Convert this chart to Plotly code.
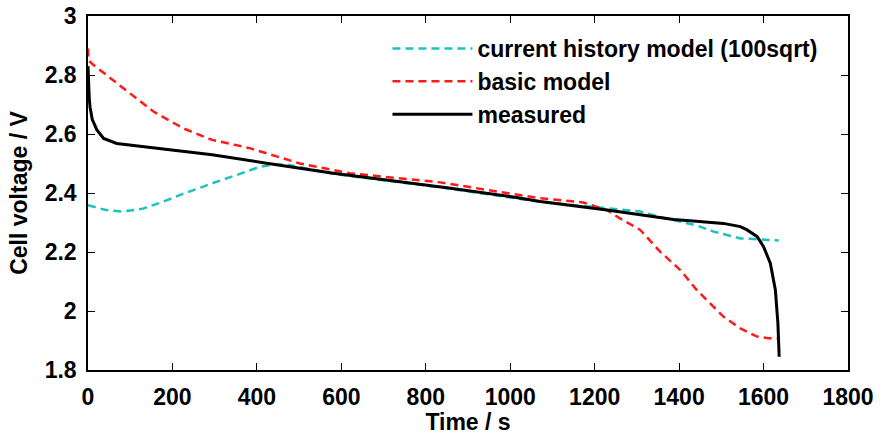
import plotly.graph_objects as go

# ---- data ----
measured_t = [0, 1, 3, 5, 10, 21, 37, 68, 147, 264, 294, 423, 581, 739, 850, 1000, 1071, 1229,
              1387, 1426, 1505, 1545, 1561, 1585, 1600, 1616, 1628, 1634, 1637]
measured_v = [2.83, 2.78, 2.72, 2.69, 2.65, 2.614, 2.585, 2.568, 2.555, 2.537, 2.530, 2.501, 2.467,
              2.438, 2.418, 2.388, 2.371, 2.342, 2.310, 2.306, 2.297, 2.286, 2.275, 2.252, 2.218,
              2.162, 2.071, 1.958, 1.845]

basic_t = [0, 1, 13, 68, 108, 155, 226, 294, 383, 423, 502, 620, 739, 834, 1000, 1071, 1173, 1229,
           1260, 1308, 1355, 1403, 1442, 1474, 1505, 1545, 1585, 1611, 1632]
basic_v = [2.89, 2.85, 2.834, 2.772, 2.726, 2.676, 2.619, 2.58, 2.552, 2.535, 2.50, 2.467, 2.45,
           2.436, 2.398, 2.382, 2.368, 2.342, 2.314, 2.275, 2.201, 2.139, 2.071, 2.026, 1.981,
           1.941, 1.913, 1.908, 1.908]

history_t = [0, 40, 82, 130, 177, 230, 272, 296, 350, 407, 446, 470, 581, 739, 850, 1071, 1200,
             1308, 1380, 1442, 1482, 1545, 1612, 1636]
history_v = [2.359, 2.343, 2.337, 2.347, 2.37, 2.40, 2.421, 2.434, 2.46, 2.489, 2.497, 2.497,
             2.465, 2.436, 2.416, 2.370, 2.352, 2.337, 2.310, 2.290, 2.269, 2.246, 2.241, 2.239]

x_ticks = [0, 200, 400, 600, 800, 1000, 1200, 1400, 1600, 1800]
x_labels = ["0", "200", "400", "600", "800", "1000", "1200", "1400", "1600", "1800"]
y_ticks = [1.8, 2.0, 2.2, 2.4, 2.6, 2.8, 3.0]
y_labels = ["1.8", "2", "2.2", "2.4", "2.6", "2.8", "3"]

FONT = "Liberation Sans, Arial, sans-serif"
FS = 23

fig = go.Figure()
fig.add_trace(go.Scatter(x=history_t, y=history_v, mode="lines",
                         name="current history model (100sqrt)",
                         line=dict(color="#1CC2C2", width=2.5, dash="8px,5px")))
fig.add_trace(go.Scatter(x=basic_t, y=basic_v, mode="lines", name="basic model",
                         line=dict(color="#FF1A1A", width=2.5, dash="8px,5px")))
fig.add_trace(go.Scatter(x=measured_t, y=measured_v, mode="lines", name="measured",
                         line=dict(color="black", width=3)))

axis_common = dict(showgrid=False, zeroline=False, showline=True, linecolor="black",
                   linewidth=1.5, mirror="allticks", ticks="inside", ticklen=7,
                   tickwidth=1.2, tickcolor="black",
                   tickfont=dict(family=FONT, size=FS, color="black", weight="bold"))

fig.update_xaxes(range=[0, 1800], tickvals=x_ticks, ticktext=x_labels,
                 title=dict(text="Time / s", standoff=2,
                            font=dict(family=FONT, size=FS, color="black", weight="bold")),
                 ticklabelstandoff=6, **axis_common)
fig.update_yaxes(range=[1.8, 3.0], tickvals=y_ticks, ticktext=y_labels,
                 title=dict(text="Cell voltage / V", standoff=11,
                            font=dict(family=FONT, size=FS, color="black", weight="bold")),
                 ticklabelstandoff=5, **axis_common)

fig.update_layout(
    width=884, height=435,
    margin=dict(l=88, r=36, t=16, b=65, autoexpand=False),
    paper_bgcolor="white", plot_bgcolor="white",
    showlegend=True,
    legend=dict(x=0.394, y=0.969, xanchor="left", yanchor="top",
                bgcolor="rgba(0,0,0,0)", borderwidth=0,
                font=dict(family=FONT, size=FS, color="black", weight="bold"),
                itemwidth=80, tracegroupgap=0),
)

fig.write_html("out.html")
